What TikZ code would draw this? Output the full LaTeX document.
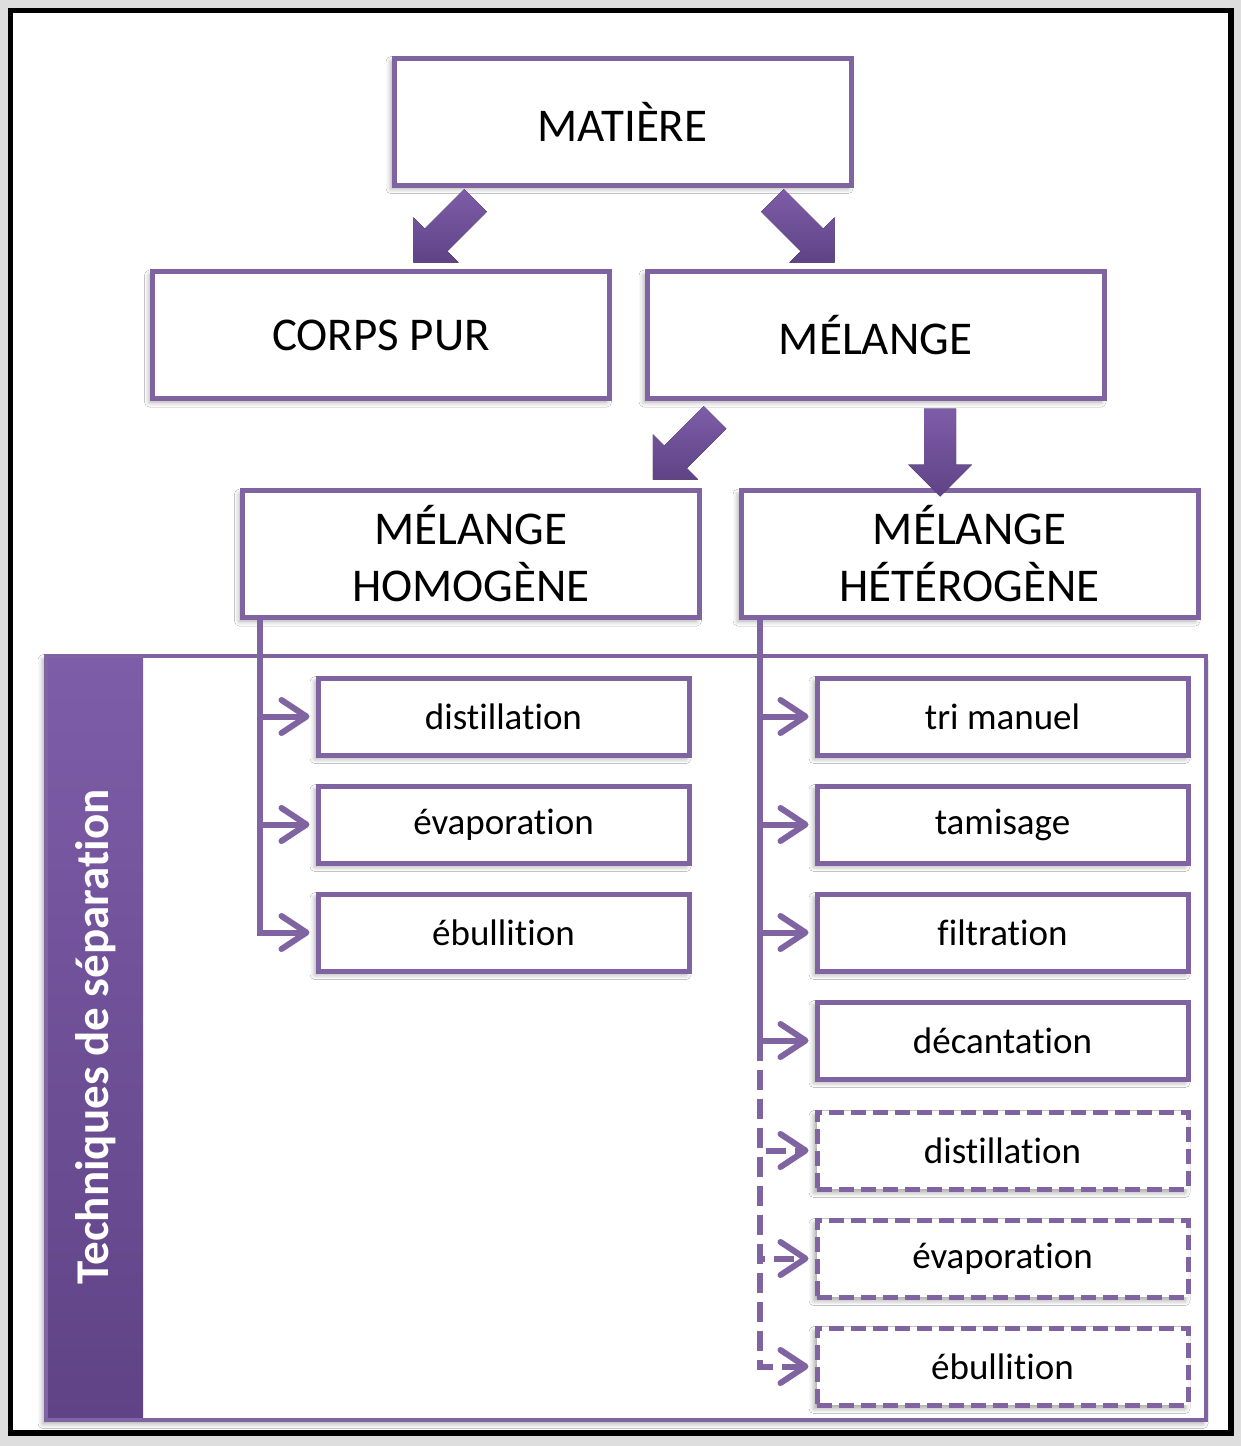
\documentclass[tikz,border=0pt]{standalone}
\usepackage{fontspec}
\setmainfont[Ligatures=NoCommon]{Carlito}
\usetikzlibrary{arrows.meta,shadows.blur,calc}
\definecolor{mauve}{HTML}{8064A2}
\definecolor{mauvelight}{HTML}{7E5DA8}
\definecolor{mauvedark}{HTML}{5F4386}
\definecolor{pagegray}{HTML}{DEDEDE}
\tikzset{
  softshadow/.style={blur shadow={shadow xshift=-1.5pt, shadow yshift=-1.8pt, shadow blur radius=2.5pt, shadow opacity=35}},
  bigbox/.style={draw=mauve, line width=2.5pt, fill=white, minimum width=228.5pt, minimum height=63.5pt,
    inner sep=0pt, align=center, font=\fontsize{23.5}{28.5}\selectfont, softshadow},
  techbox/.style={draw=mauve, line width=2.5pt, fill=white, minimum width=185.5pt, minimum height=38.5pt,
    inner sep=0pt, font=\fontsize{18.5}{22}\selectfont, softshadow},
  optbox/.style={techbox, dash pattern=on 7.5pt off 3.5pt},
  conn/.style={draw=mauve, line width=3pt, shorten >=3pt,
    -{Straight Barb[round, length=12.5pt, width=16.5pt]}},
  optconn/.style={conn, dash pattern=on 10pt off 4.5pt},
  blockarrow/.pic={
    \fill[top color=mauvelight, bottom color=mauvedark]
      (-44,-16) -- (12,-16) -- (12,-32) -- (44,0) -- (12,32) -- (12,16) -- (-44,16) -- cycle;
  }
}
\begin{document}
\begin{tikzpicture}[x=0.5pt,y=-0.5pt]
  \useasboundingbox (0,0) rectangle (1241,1446);
  % page and frame
  \fill[pagegray] (0,0) rectangle (1241,1446);
  \draw[line width=2.6pt, fill=white] (10.5,10.5) rectangle (1231,1433);

  % container of separation techniques
  \draw[mauve, line width=2.2pt, fill=white, softshadow] (46,656) rectangle (1206,1420);
  \shade[top color=mauvelight, bottom color=mauvedark] (46,656) rectangle (143,1420);
  \draw[mauve, line width=2.2pt] (46,656) rectangle (1206,1420);
  \node[rotate=90, text=white, font=\bfseries\fontsize{23.5}{28}\selectfont] (bandlabel) at (96,1037) {Techniques de séparation};

  % hierarchy
  \node[bigbox] (matiere) at (622.5,121.5) {MATIÈRE};
  \node[bigbox] (corps) at (381,335) {CORPS PUR};
  \node[bigbox] (melange) at (875.5,335) {MÉLANGE};
  \node[bigbox] (homo) at (471,554) {MÉLANGE\\HOMOGÈNE};
  \node[bigbox] (hetero) at (969.5,554) {MÉLANGE\\HÉTÉROGÈNE};

  % block arrows between levels
  \pic[rotate=-135] at (444.5,231.5) {blockarrow};
  \pic[rotate=-45] at (803.5,231.5) {blockarrow};
  \pic[rotate=-135] at (684,448.5) {blockarrow};
  \pic[rotate=-90] at (940,452.5) {blockarrow};

  % techniques for homogeneous mixtures
  \node[techbox] (hdist) at (503.5,716.5) {distillation};
  \node[techbox] (hevap) at (503.5,824.5) {évaporation};
  \node[techbox] (hebul) at (503.5,932.5) {ébullition};

  % techniques for heterogeneous mixtures
  \node[techbox] (tri) at (1002.5,716.5) {tri manuel};
  \node[techbox] (tamis) at (1002.5,824.5) {tamisage};
  \node[techbox] (filtr) at (1002.5,932.5) {filtration};
  \node[techbox] (decant) at (1002.5,1040.5) {décantation};
  \node[optbox] (odist) at (1002.5,1150.5) {distillation};
  \node[optbox] (oevap) at (1002.5,1258.5) {évaporation};
  \node[optbox] (oebul) at (1002.5,1366.5) {ébullition};

  % connectors
  \coordinate (hl) at (260,618);
  \coordinate (hr) at (760,618);
  \coordinate (hrsplit) at (hr |- decant.west);

  \draw[conn] (hl) |- (hdist.west);
  \draw[conn] (hl) |- (hevap.west);
  \draw[conn] (hl) |- (hebul.west);

  \draw[conn] (hr) |- (tri.west);
  \draw[conn] (hr) |- (tamis.west);
  \draw[conn] (hr) |- (filtr.west);
  \draw[conn] (hr) |- (decant.west);
  \draw[optconn] (hrsplit) |- (odist.west);
  \draw[optconn] (hrsplit) |- (oevap.west);
  \draw[optconn] (hrsplit) |- (oebul.west);
\end{tikzpicture}
\end{document}
